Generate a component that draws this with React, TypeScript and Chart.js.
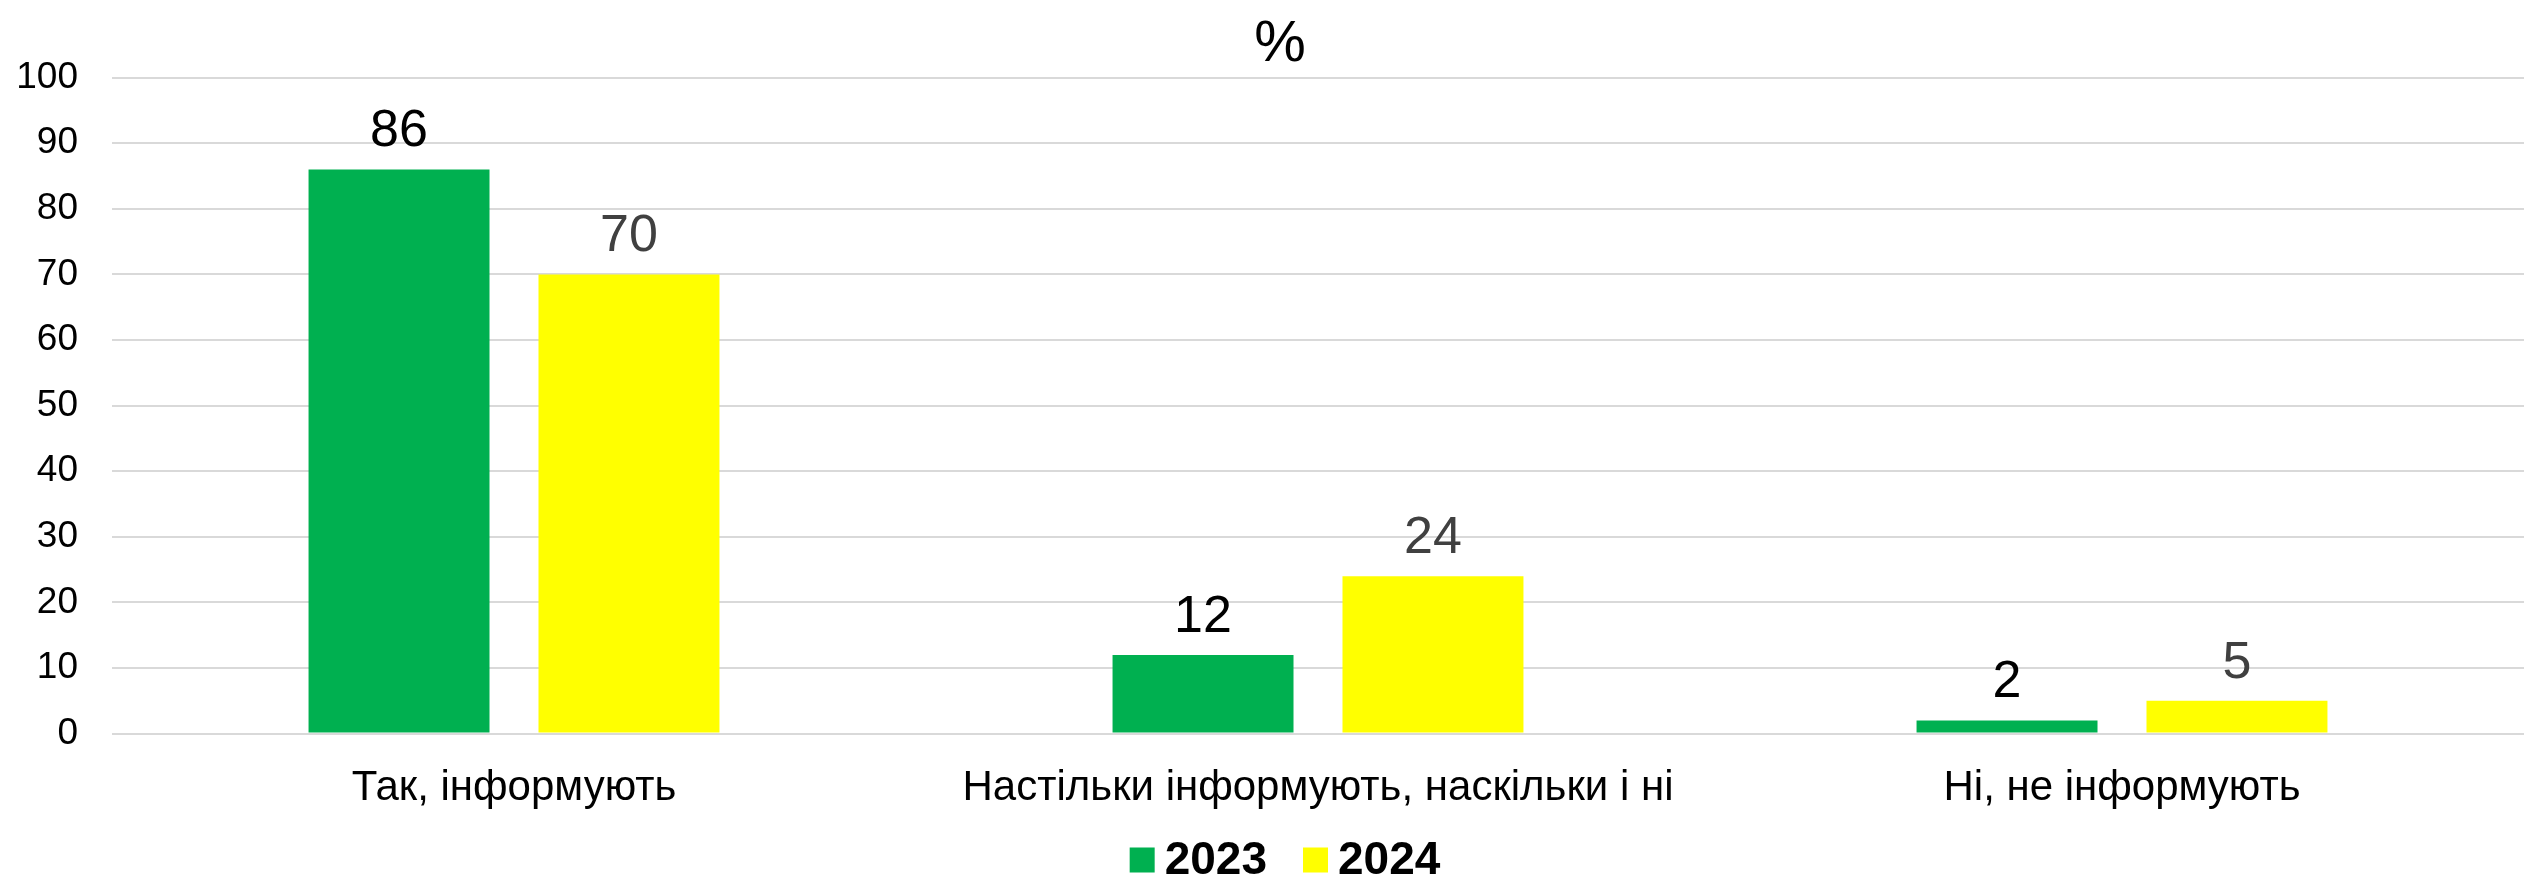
import React, { useEffect, useRef } from 'react';
import { Chart, registerables } from 'chart.js';

Chart.register(...registerables);

const categories = ['Так, інформують', 'Настільки інформують, наскільки і ні', 'Ні, не інформують'];
const seriesNames = ['2023', '2024'];
const values2023 = [86, 12, 2];
const values2024 = [70, 24, 5];
const seriesColors = ['#00B050', '#FFFF00'];
const labelColors = ['#000000', '#404040'];
const yTicks = [0, 10, 20, 30, 40, 50, 60, 70, 80, 90, 100];

const FONT = '"Liberation Sans", Arial, sans-serif';

const valueLabels = {
  id: 'valueLabels',
  afterDatasetsDraw(chart: any) {
    const ctx = chart.ctx;
    chart.data.datasets.forEach((ds: any, i: number) => {
      const meta = chart.getDatasetMeta(i);
      meta.data.forEach((bar: any, j: number) => {
        ctx.save();
        ctx.font = `52px ${FONT}`;
        ctx.fillStyle = labelColors[i];
        ctx.textAlign = 'center';
        ctx.textBaseline = 'alphabetic';
        ctx.fillText(String(ds.data[j]), bar.x, bar.y - 23);
        ctx.restore();
      });
    });
  },
};

const customLegend = {
  id: 'customLegend',
  afterDraw(chart: any) {
    const ctx = chart.ctx;
    ctx.save();
    ctx.font = `bold 46px ${FONT}`;
    const box = 25;
    const gapText = 10;
    const gapItem = 36;
    const items = chart.data.datasets.map((ds: any) => ({
      text: ds.label,
      color: ds.backgroundColor,
      w: ctx.measureText(ds.label).width,
    }));
    const total = items.reduce((s: number, it: any, i: number) => s + box + gapText + it.w + (i ? gapItem : 0), 0);
    let x = 1285 - total / 2;
    const cy = 860;
    items.forEach((it: any) => {
      ctx.fillStyle = it.color;
      ctx.fillRect(x, cy - box / 2, box, box);
      x += box + gapText;
      ctx.fillStyle = '#000000';
      ctx.textAlign = 'left';
      ctx.textBaseline = 'middle';
      ctx.fillText(it.text, x, cy + 1);
      x += it.w + gapItem;
    });
    ctx.restore();
  },
};

const titlePlugin = {
  id: 'percentTitle',
  afterDraw(chart: any) {
    const ctx = chart.ctx;
    ctx.save();
    ctx.font = `58px ${FONT}`;
    ctx.fillStyle = '#000000';
    ctx.textAlign = 'center';
    ctx.textBaseline = 'middle';
    ctx.fillText('%', 1280, 45);
    ctx.restore();
  },
};

export default function App() {
  const canvasRef = useRef<HTMLCanvasElement | null>(null);

  useEffect(() => {
    document.body.style.margin = '0';
    const canvas = canvasRef.current;
    if (!canvas) return;
    const chart = new Chart(canvas, {
      type: 'bar',
      data: {
        labels: categories,
        datasets: [
          {
            label: seriesNames[0],
            data: values2023,
            backgroundColor: seriesColors[0],
            barPercentage: 0.787,
            categoryPercentage: 0.572,
          },
          {
            label: seriesNames[1],
            data: values2024,
            backgroundColor: seriesColors[1],
            barPercentage: 0.787,
            categoryPercentage: 0.572,
          },
        ],
      },
      options: {
        animation: false,
        responsive: false,
        maintainAspectRatio: false,
        layout: { padding: { left: 0, right: 2, top: 0, bottom: 45 } },
        plugins: {
          legend: { display: false },
          tooltip: { enabled: false },
          title: {
            display: true,
            text: ' ',
            color: '#000000',
            font: { family: FONT, size: 58, weight: 'normal' },
            padding: { top: 6, bottom: 2 },
          },
        },
        scales: {
          x: {
            grid: { display: false },
            border: { display: false },
            ticks: {
              color: '#000000',
              font: { family: FONT, size: 42 },
              padding: 22,
              maxRotation: 0,
              autoSkip: false,
            },
          },
          y: {
            min: 0,
            max: 100,
            afterBuildTicks: (scale: any) => {
              scale.ticks = yTicks.map((v) => ({ value: v }));
            },
            afterFit: (scale: any) => {
              scale.width = 112;
            },
            grid: { color: '#D9D9D9', lineWidth: 2, drawTicks: false },
            border: { display: false },
            ticks: {
              color: '#000000',
              font: { family: FONT, size: 37 },
              padding: 34,
            },
          },
        },
      },
      plugins: [valueLabels, customLegend, titlePlugin],
    });
    return () => chart.destroy();
  }, []);

  return (
    <div style={{ position: 'fixed', left: 0, top: 0, width: 2526, height: 881 }}>
      <canvas ref={canvasRef} width={2526} height={881} style={{ width: 2526, height: 881, display: 'block' }} />
    </div>
  );
}
